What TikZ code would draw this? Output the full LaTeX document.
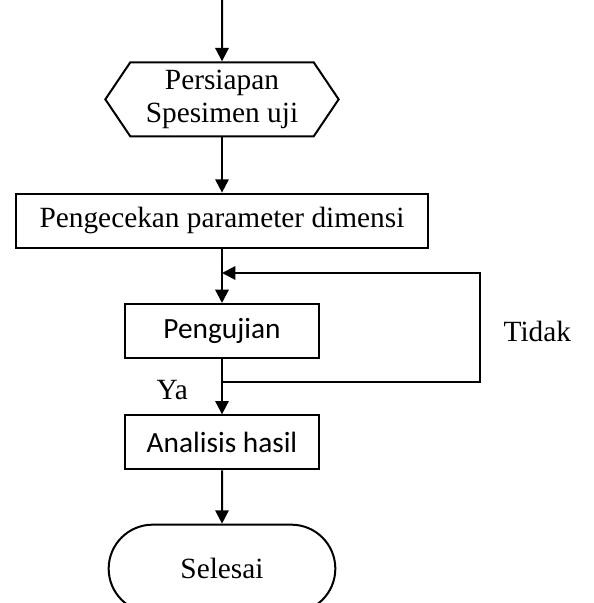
\documentclass[tikz,border=0pt]{standalone}
\usepackage{fontspec}
\setmainfont{Liberation Serif}
\newfontfamily\calibrifont{Carlito}
\usetikzlibrary{shapes.symbols,shapes.misc,arrows.meta,positioning}

\begin{document}
\begin{tikzpicture}[node distance=41.5pt, >={Triangle[length=10pt,width=10pt]}, line width=1.5pt,
  every node/.style={font=\fontsize{22}{25}\selectfont},
  box/.style={draw,rectangle,minimum height=40.5pt,inner sep=0pt},
  label/.style={inner sep=0pt}]
  \useasboundingbox (-166.5pt,0) rectangle (278.25pt,-452.25pt);
  \coordinate (start) at (0,0);
  \node[draw,signal,signal to=west and east,signal pointer angle=112,minimum width=175pt,minimum height=55.5pt,inner sep=0pt,align=center,below=46pt of start] (prep) {Persiapan\\Spesimen uji};
  \node[box,minimum width=308.25pt,below=of prep] (check) {Pengecekan parameter dimensi};
  \node[box,minimum width=145.5pt,font=\calibrifont\fontsize{22}{25}\selectfont,below=40.75pt of check] (test) {Pengujian};
  \node[box,minimum width=146pt,font=\calibrifont\fontsize{22}{25}\selectfont,below=41.5pt of test] (result) {Analisis hasil};
  \node[draw,rounded rectangle,minimum width=170pt,minimum height=66pt,inner sep=0pt,below=40pt of result] (end) {Selesai};

  \coordinate[below=17.25pt of test] (split);
  \coordinate[above=22.5pt of test] (merge);

  \draw[->] (start) -- (prep);
  \draw[->] (prep) -- (check);
  \draw[->] (check) -- (test);
  \draw[->] (test) -- (result);
  \draw[->] (result) -- (end);
  \draw[->] (split) -- ++(193.5pt,0) |- (merge);

  \node[label,left=24.75pt of split,yshift=-6pt] (ya) {Ya};
  \node[label,right=137pt of test] (tidak) {Tidak};
\end{tikzpicture}
\end{document}
